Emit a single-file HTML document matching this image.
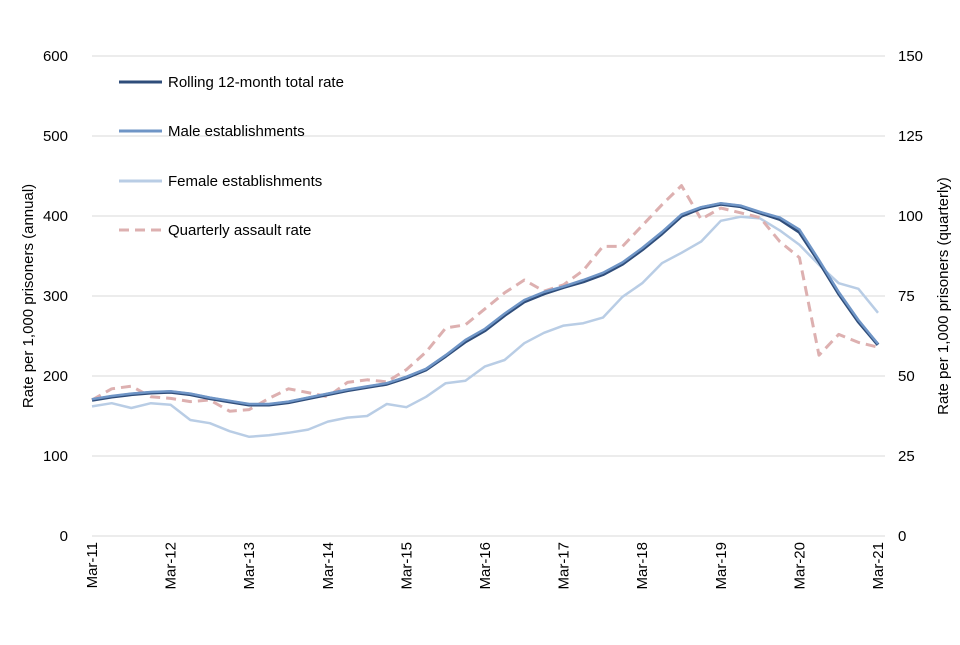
<!DOCTYPE html>
<html><head><meta charset="utf-8"><style>
body{margin:0;background:#fff;font-family:"Liberation Sans",sans-serif;}
svg text{font-family:"Liberation Sans",sans-serif;fill:#000;}
</style></head><body>
<svg width="960" height="640" xmlns="http://www.w3.org/2000/svg">
<g id="grid"></g>
<g id="axes"></g>
<g id="series"></g>
<g id="legend"></g>
<text transform="translate(33,296) rotate(-90)" text-anchor="middle" font-size="15">Rate per 1,000 prisoners (annual)</text>
<text transform="translate(948,296) rotate(-90)" text-anchor="middle" font-size="15">Rate per 1,000 prisoners (quarterly)</text>
</svg>
<script>
const xLabels=["Mar-11","Mar-12","Mar-13","Mar-14","Mar-15","Mar-16","Mar-17","Mar-18","Mar-19","Mar-20","Mar-21"];
const leftTicks=[0,100,200,300,400,500,600];
const rightTicks=[0,25,50,75,100,125,150];
const total=[170,174,177,179,180,177,172,168,164,164,167,172,177,182,186,190,198,208,225,243,257,276,293,303,311,318,327,340,358,378,400,410,415,412,404,396,380,343,303,268,239];
const male=[171,175,178,180,181,178,173,169,165,165,168,173,178,183,187,191,199,209,226,245,259,278,295,305,312,320,329,342,360,380,402,411,416,413,405,398,383,345,305,270,240];
const female=[162,166,160,166,164,145,141,131,124,126,129,133,143,148,150,165,161,174,191,194,212,220,241,254,263,266,273,299,316,341,354,368,394,399,397,382,364,339,316,309,279];
const quarterly=[42.5,46,46.8,43.5,43,42,42.5,39,39.5,43,46,44.8,43.5,48,48.8,48.2,52,57.5,65,66,71,76,80,76.5,78.5,83,90.5,90.5,97,103.5,109.5,99,102.5,101,99.5,92,87,56.5,63,60.5,59];
const X0=92,X1=878,Y0=536,Y1=56;
const NS="http://www.w3.org/2000/svg";
function x(i){return X0+(X1-X0)*i/40;}
function yL(v){return Y0-(Y0-Y1)*v/600;}
function yR(v){return Y0-(Y0-Y1)*v/150;}
function mk(tag,attrs,parent){const e=document.createElementNS(NS,tag);for(const k in attrs)e.setAttribute(k,attrs[k]);parent.appendChild(e);return e;}
const grid=document.getElementById('grid'),axes=document.getElementById('axes'),series=document.getElementById('series'),legend=document.getElementById('legend');
leftTicks.forEach(t=>{
 if(t>0){const g=mk('line',{x1:X0,x2:885,y1:yL(t),y2:yL(t),stroke:'#d9d9d9','stroke-width':1},grid);
 
 }
 const l=mk('text',{x:68,y:yL(t)+5,'text-anchor':'end','font-size':15},axes);l.textContent=t;
 
 
});
rightTicks.forEach(t=>{
 const l=mk('text',{x:898,y:yR(t)+5,'text-anchor':'start','font-size':15},axes);l.textContent=t;
 
 
});
const ax=mk('line',{x1:X0,x2:885,y1:Y0,y2:Y0,stroke:'#d9d9d9','stroke-width':1},axes);


xLabels.forEach((lab,k)=>{
 const px=x(k*4);
 const t=mk('text',{transform:`translate(${px+5},${Y0+6}) rotate(-90)`,'text-anchor':'end','font-size':15},axes);t.textContent=lab;
 
 
});
function path(arr,yf,stroke,w,dash,name){
 const d=arr.map((v,i)=>(i?'L':'M')+x(i).toFixed(1)+','+yf(v).toFixed(1)).join('');
 const p=mk('path',{d:d,fill:'none',stroke:stroke,'stroke-width':w,'stroke-linejoin':'round'},series);
 if(dash)p.setAttribute('stroke-dasharray',dash);
 
 
}
path(female,yL,'#b9cde5',2.5,null,'female-line');
path(quarterly,yR,'#ddb0b0',3,'10,6','quarterly-line');
path(total,yL,'#2f4d7a',3.5,null,'total-line');
path(male,yL,'#6f95c6',2.5,null,'male-line');
const items=[["Rolling 12-month total rate","#2f4d7a",null,82],["Male establishments","#6f95c6",null,131],["Female establishments","#b9cde5",null,181],["Quarterly assault rate","#ddb0b0","10,6",230]];
items.forEach(it=>{
 const g=mk('g',{},legend);
 
 
 const l=mk('line',{x1:119,x2:162,y1:it[3],y2:it[3],stroke:it[1],'stroke-width':3},g);
 if(it[2])l.setAttribute('stroke-dasharray',it[2]);
 const t=mk('text',{x:168,y:it[3]+5,'font-size':15},g);t.textContent=it[0];
});
</script>
</body></html>
